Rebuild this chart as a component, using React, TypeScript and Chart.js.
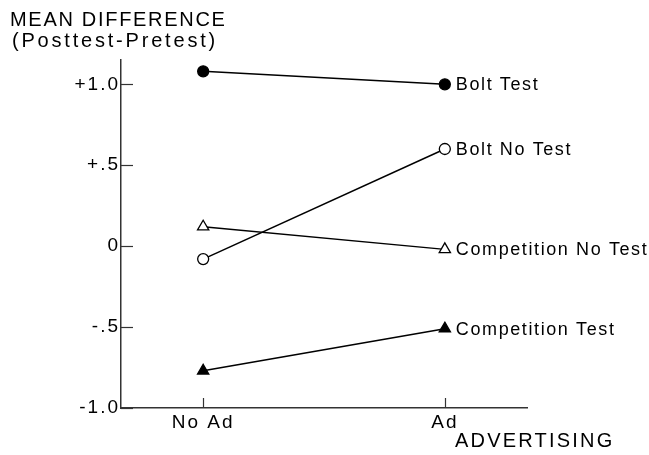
import React, { useEffect, useRef } from 'react';
import { Chart, registerables } from 'chart.js';

Chart.register(...registerables);

const categories = ['No Ad', 'Ad'];
const categoryPositions = [0, 1];
const seriesNames = ['Bolt Test', 'Bolt No Test', 'Competition No Test', 'Competition Test'];
const boltTest = [1.08, 1.0];
const boltNoTest = [-0.08, 0.6];
const competitionNoTest = [0.12, -0.02];
const competitionTest = [-0.77, -0.51];
const yTickValues = [-1, -0.5, 0, 0.5, 1];
const yTickLabels = ['-1.0', '-.5', '0', '+.5', '+1.0'];
const yTitleLines = ['MEAN DIFFERENCE', '(Posttest-Pretest)'];
const xTitle = 'ADVERTISING';

const FONT = "'Liberation Sans', Arial, Helvetica, sans-serif";
const INK = '#000';

const decor = {
  id: 'decor',
  beforeDraw(chart: any) {
    chart.ctx.letterSpacing = '2px';
  },
  afterDraw(chart: any) {
    const ctx = chart.ctx;
    const xs = chart.scales.x;
    const ys = chart.scales.y;
    const area = chart.chartArea;
    ctx.save();
    ctx.strokeStyle = '#333';
    ctx.lineWidth = 1.2;
    ys.ticks.forEach((t: any) => {
      const py = Math.round(ys.getPixelForValue(t.value)) + 0.5;
      ctx.beginPath();
      ctx.moveTo(area.left, py);
      ctx.lineTo(area.left + 12, py);
      ctx.stroke();
    });
    xs.ticks.forEach((t: any) => {
      const px = Math.round(xs.getPixelForValue(t.value)) + 0.5;
      ctx.beginPath();
      ctx.moveTo(px, area.bottom);
      ctx.lineTo(px, area.bottom - 10);
      ctx.stroke();
    });

    ctx.fillStyle = INK;
    ctx.textAlign = 'left';
    ctx.textBaseline = 'alphabetic';
    ctx.font = `20px ${FONT}`;
    ctx.letterSpacing = '1.7px';
    ctx.fillText(yTitleLines[0], 10, 26);
    ctx.letterSpacing = '2.8px';
    ctx.fillText(yTitleLines[1], 12, 47);

    ctx.letterSpacing = '2.2px';
    ctx.fillText(xTitle, 455, 447);

    ctx.font = `18px ${FONT}`;
    ctx.letterSpacing = '1.6px';
    ctx.textBaseline = 'middle';
    chart.data.datasets.forEach((ds: any, i: number) => {
      const meta = chart.getDatasetMeta(i);
      const last = meta.data[meta.data.length - 1];
      ctx.fillText(seriesNames[i], last.x + 11, last.y + 1);
    });
    ctx.restore();
  },
};

function makeSeries(values: number[]) {
  return values.map((v, i) => ({ x: categoryPositions[i], y: v }));
}

export default function App() {
  const ref = useRef<HTMLCanvasElement | null>(null);
  useEffect(() => {
    if (!ref.current) return;
    const base = {
      borderColor: INK,
      borderWidth: 1.5,
      pointBorderColor: INK,
      pointBorderWidth: 1.3,
      clip: false as any,
      tension: 0,
    };
    const chart = new Chart(ref.current, {
      type: 'line',
      data: {
        datasets: [
          { ...base, label: seriesNames[0], data: makeSeries(boltTest), pointStyle: 'circle', pointRadius: 5.5, pointBackgroundColor: INK },
          { ...base, label: seriesNames[1], data: makeSeries(boltNoTest), pointStyle: 'circle', pointRadius: 5.5, pointBackgroundColor: '#fff' },
          { ...base, label: seriesNames[2], data: makeSeries(competitionNoTest), pointStyle: 'triangle', pointRadius: 6.5, pointBackgroundColor: '#fff' },
          { ...base, label: seriesNames[3], data: makeSeries(competitionTest), pointStyle: 'triangle', pointRadius: 6.5, pointBackgroundColor: INK },
        ],
      },
      options: {
        responsive: false,
        devicePixelRatio: 1,
        animation: false,
        layout: { padding: { top: 60, right: 122, bottom: 0, left: 0 } },
        plugins: { legend: { display: false }, tooltip: { enabled: false } },
        scales: {
          x: {
            type: 'linear',
            min: -0.34,
            max: 1.34,
            afterBuildTicks: (scale: any) => {
              scale.ticks = categoryPositions.map((v) => ({ value: v }));
            },
            afterFit: (scale: any) => {
              scale.height = 47;
            },
            grid: { drawOnChartArea: false, drawTicks: false },
            border: { color: '#333', width: 1.5 },
            ticks: {
              padding: 3,
              color: INK,
              font: { family: FONT, size: 19 },
              callback: (_v: any, i: number) => categories[i],
              maxRotation: 0,
              autoSkip: false,
            },
          },
          y: {
            type: 'linear',
            min: -1.0,
            max: 1.15,
            afterBuildTicks: (scale: any) => {
              scale.ticks = yTickValues.map((v) => ({ value: v }));
            },
            afterFit: (scale: any) => {
              scale.width = 121;
            },
            grid: { drawOnChartArea: false, drawTicks: false },
            border: { color: '#333', width: 1.5 },
            ticks: {
              padding: 1,
              color: INK,
              font: { family: FONT, size: 19 },
              callback: (_v: any, i: number) => yTickLabels[i],
              autoSkip: false,
            },
          },
        },
      },
      plugins: [decor],
    } as any);
    return () => chart.destroy();
  }, []);
  return (
    <div style={{ position: 'absolute', left: 0, top: 0, width: 649, height: 455, background: '#fff' }}>
      <canvas ref={ref} width={649} height={455} style={{ display: 'block', width: 649, height: 455 }} />
    </div>
  );
}
